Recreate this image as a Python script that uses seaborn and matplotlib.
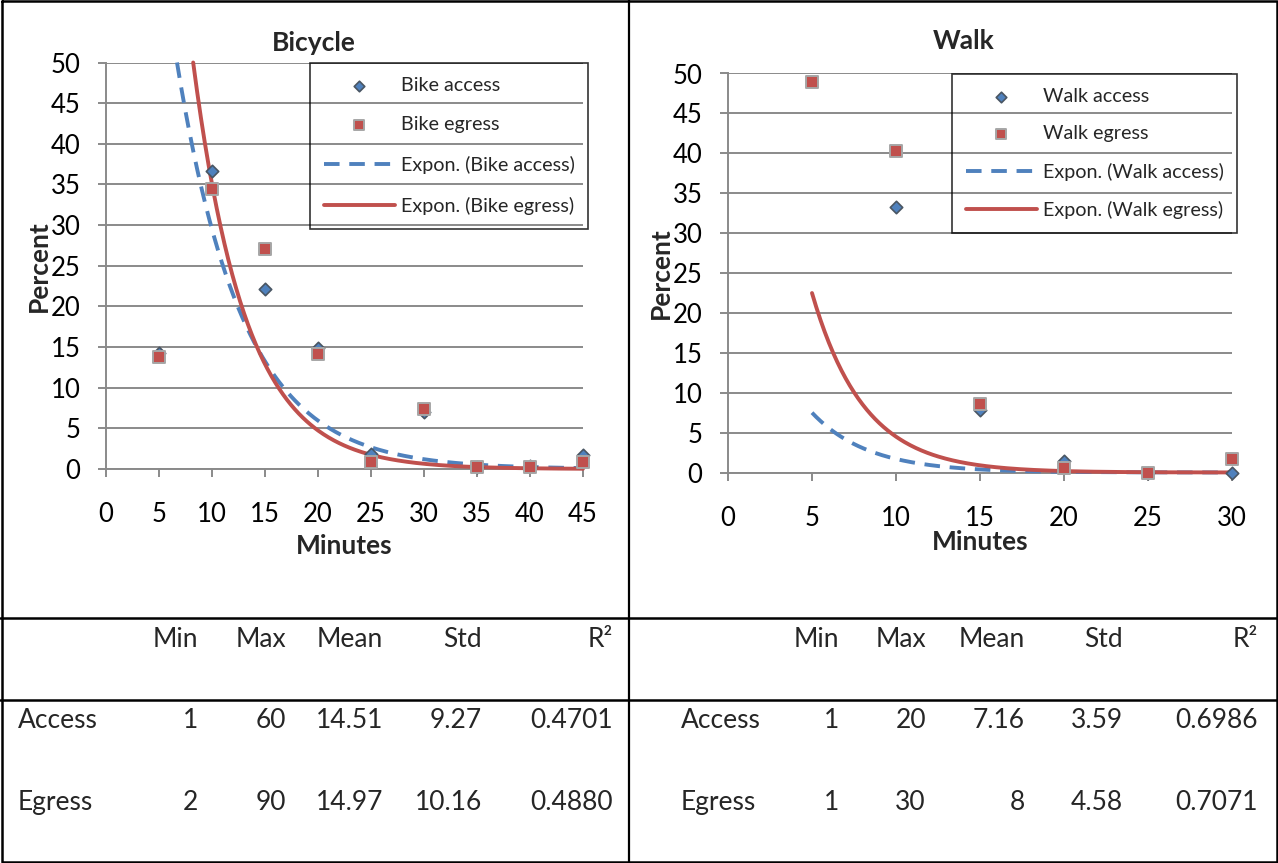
import numpy as np
import pandas as pd
import matplotlib
matplotlib.use("Agg")
import matplotlib.pyplot as plt
import seaborn as sns
from matplotlib.lines import Line2D

# values
bike_minutes = [5, 10, 15, 20, 25, 30, 35, 40, 45]
bike_access = [14.3, 36.6, 22.1, 14.9, 1.8, 7.0, 0.3, 0.4, 1.7]
bike_egress = [13.8, 34.5, 27.0, 14.2, 0.9, 7.4, 0.3, 0.3, 0.8]

walk_minutes = [5, 10, 15, 20, 25, 30]
walk_access = [57.5, 33.3, 7.8, 1.4, 0.0, 0.0]
walk_egress = [48.9, 40.3, 8.6, 0.6, 0.0, 1.7]

# Excel "Expon." trendlines, y = a * exp(-b * x), coefficients
bike_access_fit = (146.0, 0.16)
bike_egress_fit = (259.0, 0.20)
walk_access_fit = (33.1, 0.297)
walk_egress_fit = (112.5, 0.322)

table_cols = ["Min", "Max", "Mean", "Std", "R²"]
table_rows = ["Access", "Egress"]
bike_stats = [["1", "60", "14.51", "9.27", "0.4701"],
              ["2", "90", "14.97", "10.16", "0.4880"]]
walk_stats = [["1", "20", "7.16", "3.59", "0.6986"],
              ["1", "30", "8", "4.58", "0.7071"]]

BLUE = "#4F81BD"
RED = "#C0504D"
GRID = "#8A8A8A"
YMAX = 50

W, H = 1278, 863
TICK_FS = 18.5
LABEL_FS = 19
TABLE_FS = 19

sns.set_style("white")
plt.rcParams["font.family"] = ["Lato", "DejaVu Sans"]

fig = plt.figure(figsize=(W / 100, H / 100), dpi=100)


def px_axes(left, top, right, bottom):
    return fig.add_axes([left / W, 1 - bottom / H, (right - left) / W, (bottom - top) / H])


def draw_panel(ax, minutes, access, egress, access_fit, egress_fit, name, xmax,
               legend_xy, spacing):
    df = pd.DataFrame({"Minutes": minutes, "access": access, "egress": egress})
    # points above the top of the axis are not shown (as in Excel)
    sns.scatterplot(data=df[df["access"] <= YMAX], x="Minutes", y="access", marker="D",
                    s=40, color=BLUE, edgecolor="#4a5663", linewidth=1.2,
                    label=f"{name} access", ax=ax, zorder=5, clip_on=False)
    sns.scatterplot(data=df[df["egress"] <= YMAX], x="Minutes", y="egress", marker="s",
                    s=81, color=RED, edgecolor="#A6A6A6", linewidth=1.4,
                    label=f"{name} egress", ax=ax, zorder=6, clip_on=False)

    for fit, color, ls, label in [(access_fit, BLUE, (0, (4, 2.5)), f"Expon. ({name} access)"),
                                  (egress_fit, RED, "-", f"Expon. ({name} egress)")]:
        a, b = fit
        x0 = max(minutes[0], np.log(a / YMAX) / b)
        xs = np.linspace(x0, minutes[-1], 300)
        sns.lineplot(x=xs, y=a * np.exp(-b * xs), color=color, lw=2.8, linestyle=ls,
                     label=label, ax=ax, zorder=4, clip_on=False, estimator=None, sort=False)

    ax.set_xlim(0, xmax)
    ax.set_ylim(0, YMAX)
    ax.set_xticks(range(0, xmax + 1, 5))
    ax.set_yticks(range(0, YMAX + 1, 5))
    ax.yaxis.grid(True, color=GRID, lw=1.4)
    ax.set_axisbelow(True)
    for side in ["top", "right"]:
        ax.spines[side].set_visible(False)
    for side in ["left", "bottom"]:
        ax.spines[side].set_color(GRID)
        ax.spines[side].set_linewidth(1.4)
    ax.tick_params(axis="both", direction="out", length=5.8, width=1.4, color=GRID,
                   labelsize=TICK_FS, labelcolor="black", bottom=True, left=True)
    ax.tick_params(axis="x", pad=18)
    ax.tick_params(axis="y", pad=12.5)

    handles, labels = ax.get_legend_handles_labels()
    order = [f"{name} access", f"{name} egress",
             f"Expon. ({name} access)", f"Expon. ({name} egress)"]
    hmap = dict(zip(labels, handles))
    leg = ax.legend([hmap[k] for k in order], order, loc="upper left",
                    bbox_to_anchor=(legend_xy[0] / W, 1 - legend_xy[1] / H),
                    bbox_transform=fig.transFigure, borderaxespad=0, frameon=True,
                    fancybox=False, fontsize=14.2, handlelength=3.6, handletextpad=0.3,
                    labelspacing=spacing, borderpad=0.7, markerscale=0.85)
    frame = leg.get_frame()
    frame.set_facecolor("none")
    frame.set_edgecolor("black")
    frame.set_linewidth(1.2)
    leg.set_zorder(7)


ax_bike = px_axes(106, 62.5, 583, 469)
draw_panel(ax_bike, bike_minutes, bike_access, bike_egress, bike_access_fit,
           bike_egress_fit, "Bike", 45, (310, 63), 1.15)
ax_bike.set_xlabel("Minutes", fontsize=LABEL_FS, fontweight="bold", va="center")
ax_bike.set_ylabel("Percent", fontsize=LABEL_FS, fontweight="bold", va="center", ha="center")
ax_bike.xaxis.set_label_coords(0.5, -0.189)
ax_bike.yaxis.set_label_coords(-0.1405, 0.5)
fig.text(314 / W, 1 - 43 / H, "Bicycle", ha="center", va="center",
         fontsize=LABEL_FS, fontweight="bold")

ax_walk = px_axes(728, 73.5, 1232, 472.5)
draw_panel(ax_walk, walk_minutes, walk_access, walk_egress, walk_access_fit,
           walk_egress_fit, "Walk", 30, (952, 74.5), 1.02)
ax_walk.set_xlabel("Minutes", fontsize=LABEL_FS, fontweight="bold", va="center")
ax_walk.set_ylabel("Percent", fontsize=LABEL_FS, fontweight="bold", va="center", ha="center")
ax_walk.xaxis.set_label_coords(0.5, -0.174)
ax_walk.yaxis.set_label_coords(-0.134, 0.5)
fig.text(964 / W, 1 - 41 / H, "Walk", ha="center", va="center",
         fontsize=LABEL_FS, fontweight="bold")


# table grid lines
def fig_line(xs, ys, lw=1.6):
    fig.add_artist(Line2D([x / W for x in xs], [1 - y / H for y in ys], color="black", lw=lw))


fig_line([1.5, 1276.5, 1276.5, 1.5, 1.5], [1.5, 1.5, 861.5, 861.5, 1.5], lw=1.8)
fig_line([629, 629], [0, H])
fig_line([0, W], [617.5, 617.5], lw=1.8)
fig_line([0, W], [699.5, 699.5], lw=1.8)

# table text
baselines = [646.7, 728.3, 810]
for label_x, col_x, stats in [(18, [198, 286, 383, 482, 613], bike_stats),
                              (681, [839, 926, 1025, 1123, 1258], walk_stats)]:
    for cx, col in zip(col_x, table_cols):
        fig.text(cx / W, 1 - baselines[0] / H, col, ha="right", va="baseline", fontsize=TABLE_FS)
    for r, (row, vals) in enumerate(zip(table_rows, stats)):
        y = 1 - baselines[r + 1] / H
        fig.text(label_x / W, y, row, ha="left", va="baseline", fontsize=TABLE_FS)
        for cx, v in zip(col_x, vals):
            fig.text(cx / W, y, v, ha="right", va="baseline", fontsize=TABLE_FS)

fig.savefig("out.png", dpi=100, facecolor="white")
